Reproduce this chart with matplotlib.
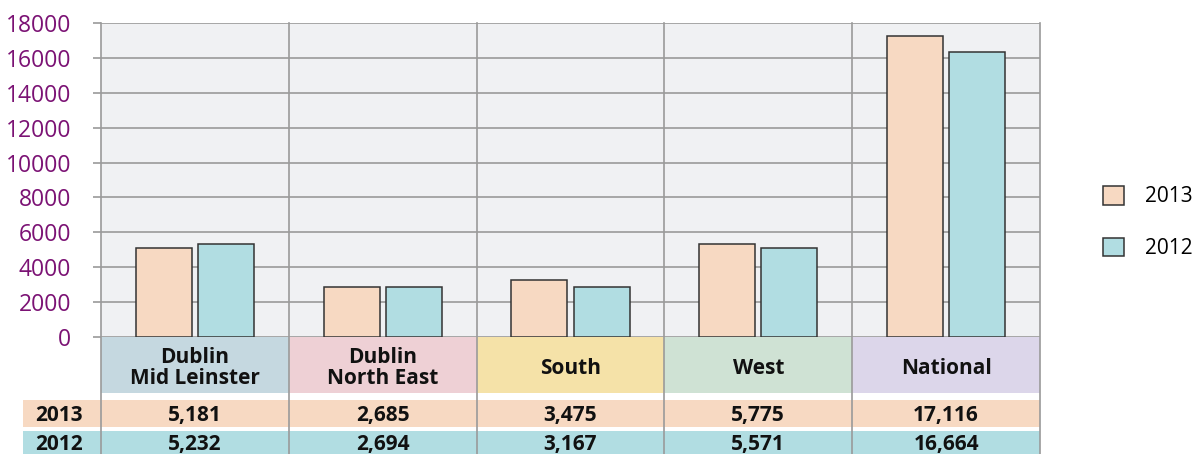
import matplotlib
matplotlib.use("Agg")
import matplotlib.pyplot as plt
from matplotlib.patches import Rectangle, Patch

plt.rcParams['font.family'] = ['Open Sans', 'DejaVu Sans']

categories = ["Dublin\nMid Leinster", "Dublin\nNorth East", "South", "West", "National"]
series_names = ["2013", "2012"]
# bar heights as drawn in the chart
bars_2013 = [5120, 2850, 3290, 5330, 17250]
bars_2012 = [5330, 2850, 2850, 5120, 16350]
# values printed in the table below the chart
table_2013 = [5181, 2685, 3475, 5775, 17116]
table_2012 = [5232, 2694, 3167, 5571, 16664]
yticks = [0, 2000, 4000, 6000, 8000, 10000, 12000, 14000, 16000, 18000]

c2013 = "#F7D9C2"
c2012 = "#B1DDE2"
header_colors = ["#C5D8E0", "#EED0D5", "#F5E2A8", "#CFE2D4", "#DCD6EA"]
grid_c = "#9A9A9A"
purple = "#7B1274"

W, H = 1197, 454
fig = plt.figure(figsize=(W / 100, H / 100), dpi=100)
ax = fig.add_axes([101 / W, 1 - 337 / H, 939 / W, 314 / H])
ax.set_facecolor("#F0F1F3")

n = len(categories)
x = list(range(n))
bw = 0.298
off = 0.166
ax.bar([i - off for i in x], bars_2013, width=bw, color=c2013, edgecolor="#333333", linewidth=1.1, zorder=3, label=series_names[0])
ax.bar([i + off for i in x], bars_2012, width=bw, color=c2012, edgecolor="#333333", linewidth=1.1, zorder=3, label=series_names[1])

ax.set_xlim(-0.5, n - 0.5)
ax.set_ylim(0, 18000)
ax.set_yticks(yticks)
ax.set_yticklabels([str(v) for v in yticks])
ax.set_xticks([])
ax.yaxis.grid(True, color=grid_c, linewidth=1.2, zorder=1)
ax.tick_params(axis='y', length=6, width=1.2, color=grid_c, labelcolor=purple, labelsize=16.5, pad=15.5)
for lbl in ax.get_yticklabels():
    lbl.set_va("center_baseline")
for s in ax.spines.values():
    s.set_visible(False)

tr = ax.get_xaxis_transform()
# vertical separators through chart and table
for b in [i - 0.5 for i in range(n + 1)]:
    ax.plot([b, b], [1.0, -0.373], color=grid_c, linewidth=1.2, transform=tr, clip_on=False, zorder=4)

# header row
h_top, h_bot = 0.0, -56 / 314
for i, (cat, col) in enumerate(zip(categories, header_colors)):
    ax.add_patch(Rectangle((i - 0.5, h_bot), 1, h_top - h_bot, transform=tr, facecolor=col,
                           edgecolor="none", clip_on=False, zorder=2))
    ax.text(i, (h_top + h_bot) / 2 - 3 / 314, cat, transform=tr, ha="center", va="center",
            fontsize=15, fontweight="bold", color="#111111", linespacing=1.05, zorder=5)

# data rows
label_left = -0.5 - 78 / 187.8
label_center = -0.5 - 42 / 187.8
rows = [(series_names[0], table_2013, c2013, -63 / 314, -90 / 314),
        (series_names[1], table_2012, c2012, -94 / 314, -117 / 314)]
for name, vals, col, top, bot in rows:
    ax.add_patch(Rectangle((label_left, bot), (n - 0.5) - label_left, top - bot, transform=tr,
                           facecolor=col, edgecolor="none", clip_on=False, zorder=2))
    yc = (top + bot) / 2 - 2 / 314
    ax.text(label_center, yc, name, transform=tr, ha="center", va="center",
            fontsize=15, fontweight="bold", color="#111111", zorder=5)
    for i, v in enumerate(vals):
        ax.text(i, yc, f"{v:,}", transform=tr, ha="center", va="center",
                fontsize=15, fontweight="bold", color="#111111", zorder=5)

handles = [Patch(facecolor=c2013, edgecolor="#333333", linewidth=1.1),
           Patch(facecolor=c2012, edgecolor="#333333", linewidth=1.1)]
fig.legend(handles, series_names, loc="upper left", bbox_to_anchor=(1103 / W, 1 - 186 / H),
           frameon=False, fontsize=15, handlelength=1.0, handleheight=1.0,
           handletextpad=1.0, labelspacing=1.45, borderpad=0, borderaxespad=0)

fig.savefig("out.png", dpi=100)
